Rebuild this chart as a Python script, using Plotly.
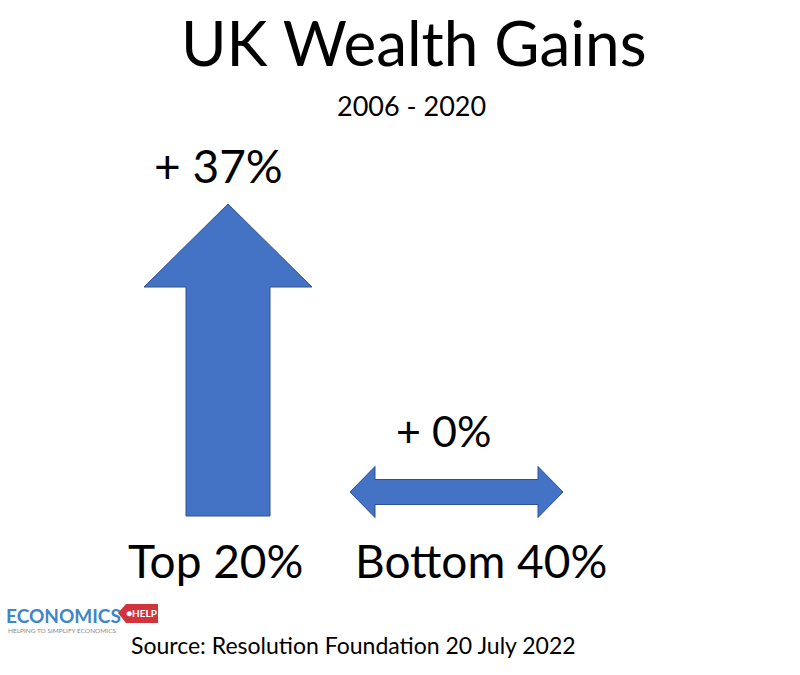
import plotly.graph_objects as go

# ---------------- data ----------------
title = "UK Wealth Gains"
subtitle = "2006 - 2020"
groups = ["Top 20%", "Bottom 40%"]
gains = [37, 0]                      # % wealth gain 2006-2020
gain_labels = ["+ 37%", "+ 0%"]
source = "Source: Resolution Foundation 20 July 2022"

# ---------------- style ----------------
W, H = 800, 675
FONT = "Lato, Carlito, Calibri, sans-serif"
BLUE = "#4472C4"
EDGE = "#2F528F"

# y axis expressed in % gain; 0% sits at pixel row 516, scale 8.43 px per %
Y0_PX = 516
PX_PER_PCT = 312 / 37
yrange = [-(H - Y0_PX) / PX_PER_PCT, Y0_PX / PX_PER_PCT]


def u(px):  # pixel length -> y units
    return px / PX_PER_PCT


fig = go.Figure()

# up arrow for a positive gain
cx = 228
top = gains[0]
head = u(83)
sx, hx = 42, 84
ax = [cx - sx, cx - sx, cx - hx, cx, cx + hx, cx + sx, cx + sx, cx - sx]
ay = [0, top - head, top - head, top, top - head, top - head, 0, 0]
fig.add_trace(go.Scatter(x=ax, y=ay, mode="lines", fill="toself",
                         fillcolor=BLUE, line=dict(color=EDGE, width=1),
                         hoverinfo="skip", showlegend=False))

# flat double-headed arrow for a zero gain
yc = gains[1] + u(24)
x0, x1 = 350, 563
hl = 25
sh, hh = u(12.5), u(25.5)
bx = [x0, x0 + hl, x0 + hl, x1 - hl, x1 - hl, x1, x1 - hl, x1 - hl, x0 + hl, x0 + hl, x0]
by = [yc, yc + hh, yc + sh, yc + sh, yc + hh, yc, yc - hh, yc - sh, yc - sh, yc - hh, yc]
fig.add_trace(go.Scatter(x=bx, y=by, mode="lines", fill="toself",
                         fillcolor=BLUE, line=dict(color=EDGE, width=1),
                         hoverinfo="skip", showlegend=False))


def px(x):
    return x / W


def py(y):
    return 1 - y / H


ann = []


def text(t, x, y, size, color="black", family=FONT, **kw):
    ann.append(dict(text=t, x=px(x), y=py(y), xref="paper", yref="paper",
                    xanchor="center", yanchor="middle", showarrow=False,
                    font=dict(size=size, color=color, family=family), **kw))


text(title, 414, 42, 62)
text(subtitle, 411, 105, 27)
text(gain_labels[0], 218, 166, 46)
text(gain_labels[1], 443, 430, 43)
text(groups[0], 215, 560, 46)
text(groups[1], 481, 560, 46)
text(source, 353, 645, 23)

# logo
text("<b>ECONOMICS</b>", 63, 615, 19, color="#3D86C8",
     family="Lato, sans-serif")
text("HELPING TO SIMPLIFY ECONOMICS", 62, 630, 6.5, color="#888888",
     family="Lato, sans-serif")
shapes = [dict(type="path", xref="paper", yref="paper",
               path=f"M {px(118)},{py(613)} L {px(126)},{py(604)} L {px(158)},{py(604)} "
                    f"L {px(158)},{py(623)} L {px(126)},{py(623)} Z",
               fillcolor="#D2343B", line=dict(width=0))]
text("<b>●HELP</b>", 141, 613, 10, color="white", family="Lato, sans-serif")

fig.update_layout(
    width=W, height=H, margin=dict(l=0, r=0, t=0, b=0),
    paper_bgcolor="white", plot_bgcolor="white",
    xaxis=dict(range=[0, W], visible=False, fixedrange=True),
    yaxis=dict(range=yrange, visible=False, fixedrange=True),
    annotations=ann, shapes=shapes, showlegend=False,
)

fig.write_html("out.html", config={"displayModeBar": False},
               post_script="document.body.style.margin='0';")
